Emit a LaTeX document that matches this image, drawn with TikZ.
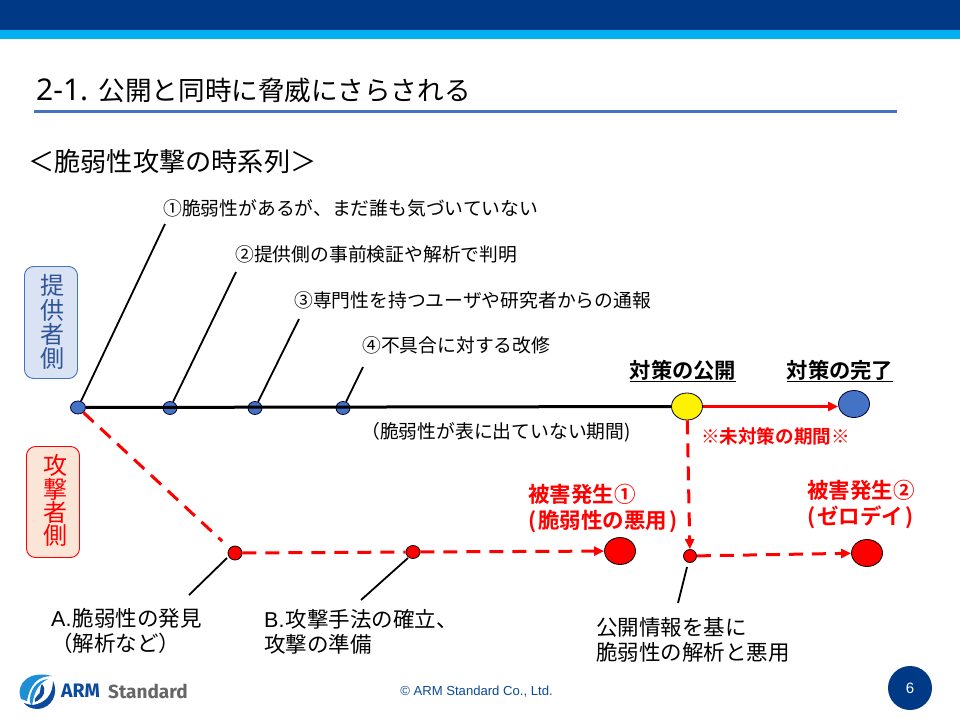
\documentclass[tikz,border=0pt]{standalone}
\usepackage{fontspec}
\usetikzlibrary{arrows.meta,shapes.geometric}
\setmainfont{Noto Sans CJK JP}[BoldFont={Noto Sans CJK JP Bold}]
\newfontfamily\latinf{Liberation Sans}
\newfontfamily\latinn{Noto Sans}
\newfontfamily\logof{Fira Sans}
\definecolor{hdrblue}{HTML}{003A87}
\definecolor{hdrcyan}{HTML}{00B0F0}
\definecolor{rulebl}{HTML}{4472C4}
\definecolor{dotblue}{HTML}{4472C4}
\definecolor{provfill}{HTML}{DAE3F3}
\definecolor{atkfill}{HTML}{FBE5D6}
\definecolor{provtext}{HTML}{2F5597}
\definecolor{logolight}{HTML}{1E8FD5}
\definecolor{logodark}{HTML}{0B4A9C}
\newcommand{\fs}[1]{\fontsize{#1}{#1}\selectfont}
\tikzset{
  x=1pt,y=-1pt,
  lbl/.style={anchor=west,inner sep=0pt,align=left,font=\fs{18.8}},
  twol/.style={anchor=west,inner sep=0pt,align=left,font=\fontsize{21.5}{25}\selectfont},
  redb/.style={anchor=west,inner sep=0pt,align=left,text=red,font=\fontsize{21.5}{26}\selectfont\bfseries},
  hdb/.style={inner sep=0pt,font=\fs{21.3}\bfseries},
  dotb/.style={ellipse,draw=black!80!blue,line width=.8pt,fill=dotblue,inner sep=0pt},
  small/.style={minimum width=14pt,minimum height=13pt},
  big/.style={minimum width=31pt,minimum height=27pt},
  dotr/.style={ellipse,draw=black,line width=.8pt,fill=red,inner sep=0pt},
  lead/.style={draw=black,line width=1.8pt},
  reddash/.style={draw=red,line width=3pt,dash pattern=on 14pt off 9pt},
  tip/.style={-{Triangle[length=10pt,width=9pt,fill=red]}},
  sidebox/.style={rounded corners=9pt,line width=.9pt,minimum width=53pt,inner sep=0pt},
  sidetext/.style={inner sep=0pt,align=center,font=\fs{24}},
}
\begin{document}
\begin{tikzpicture}
\useasboundingbox (0,0) rectangle (960,720);
\fill[white] (0,0) rectangle (960,720);
\fill[hdrblue] (0,0) rectangle (960,30);
\fill[hdrcyan] (0,30) rectangle (960,39);
\node[anchor=west,inner sep=0pt,font=\fs{26.6}] (title) at (36,90) {{\latinn\fs{30}2-1.}\hspace{10.5pt}公開と同時に脅威にさらされる};
\fill[rulebl] (34,110) rectangle (897,113);
\node[anchor=west,inner sep=0pt,font=\fs{26.2}] (sub) at (28,161) {＜脆弱性攻撃の時系列＞};

\node[sidebox,draw=dotblue,fill=provfill,minimum height=112pt] (prov) at (51,322.5) {};
\node[sidetext,text=provtext] (provl) at (52.5,322) {提\\[0.2pt]供\\[0.2pt]者\\[0.2pt]側};
\node[sidebox,draw=red,fill=atkfill,minimum height=111pt] (atk) at (53,502) {};
\node[sidetext,text=red] (atkl) at (55,500.5) {攻\\[-0.8pt]撃\\[-0.8pt]者\\[-0.8pt]側};

\node[lbl] (t1) at (163,208) {①脆弱性があるが、まだ誰も気づいていない};
\node[lbl] (t2) at (235,254) {②提供側の事前検証や解析で判明};
\node[lbl] (t3) at (294,300) {③専門性を持つユーザや研究者からの通報};
\node[lbl] (t4) at (362,345) {④不具合に対する改修};
\node[lbl] (t5) at (361,432) {（脆弱性が表に出ていない期間)};

\node[dotb,small,minimum width=15pt] (n1) at (78,407.5) {};
\node[dotb,small] (n2) at (170,408) {};
\node[dotb,small] (n3) at (255,408) {};
\node[dotb,small] (n4) at (343,408) {};
\node[ellipse,draw=black!80!blue,line width=.8pt,fill=yellow,inner sep=0pt,big] (y) at (687,406.5) {};
\node[dotb,big] (b) at (854,404) {};

\node[dotr,minimum width=14pt,minimum height=14pt] (ra) at (235,553) {};
\node[dotr,minimum width=14pt,minimum height=13pt] (rb) at (413,552) {};
\node[dotr,minimum width=31pt,minimum height=27pt] (r1) at (620,551) {};
\node[dotr,minimum width=13pt,minimum height=13pt] (rc) at (690,556) {};
\node[dotr,minimum width=31pt,minimum height=27pt] (r2) at (867,553) {};

\coordinate (e1) at (165,224);
\coordinate (e2) at (236,272);
\coordinate (e3) at (299,319);
\coordinate (e4) at (363,367);
\coordinate (ea) at (189,595);
\coordinate (eas) at (227,558);
\coordinate (eb) at (361,600);
\coordinate (ebs) at (408,558);
\coordinate (ec) at (678,603);
\coordinate (ecs) at (687,567);

\draw[lead] (n1) -- (e1);
\draw[lead] (n2) -- (e2);
\draw[lead] (n3) -- (e3);
\draw[lead] (n4) -- (e4);
\draw[draw=black,line width=3pt] (n1) -- (y);
\draw[draw=red,line width=3pt,tip] (y.east) -- ([yshift=-2.5pt]b.west);
\draw[reddash,shorten >=10pt] (n1) -- (ra);
\draw[reddash] (ra) -- (rb);
\draw[reddash,tip] (rb) -- (r1);
\draw[reddash,tip] (y) -- (rc);
\draw[reddash,tip] (rc) -- (r2);
\draw[lead] (eas) -- (ea);
\draw[lead] (ebs) -- (eb);
\draw[lead] (ecs) -- (ec);

\node[hdb,anchor=center] (h1) at (683,371) {\underline{対策の公開}};
\node[hdb,anchor=center] (h2) at (840,371) {\underline{対策の完了}};
\node[inner sep=0pt,text=red,font=\fs{18.6}\bfseries] (h3) at (775.5,436) {※未対策の期間※};
\node[redb] (d1) at (528,509) {被害発生①\\(\hspace{2pt}脆弱性の悪用\hspace{2pt})};
\node[redb] (d2) at (807,505) {被害発生②\\(\hspace{2pt}ゼロデイ\hspace{2pt})};

\node[twol] (ta) at (51,630.5) {{\latinf A.}\hspace{1pt}脆弱性の発見\\（解析など）};
\node[twol] (tb) at (264,632) {{\latinf B.}\hspace{1pt}攻撃手法の確立、\\攻撃の準備};
\node[twol] (tc) at (596,640) {公開情報を基に\\脆弱性の解析と悪用};

% logo
\fill[logolight] (21,699) .. controls (15,683) and (30,670) .. (52,676) .. controls (38,676) and (30,684) .. (27,701) -- cycle;
\fill[logolight] (30,702) .. controls (29,692) and (36,680) .. (48,679) .. controls (38,684) and (34,692) .. (32,706) -- cycle;
\fill[logodark] (38,709) .. controls (52,708) and (59,693) .. (53,681) .. controls (53,694) and (46,703) .. (33,705) .. controls (30,705) and (27,704) .. (24,703) .. controls (27,707) and (32,709) .. (38,709) -- cycle;
\fill[logodark] (35,702) .. controls (44,698) and (47,690) .. (42,684) .. controls (39,688) and (42,693) .. (37,696) .. controls (35,698) and (34,700) .. (35,702) -- cycle;
\node[anchor=west,inner sep=0pt,text=logodark,font=\logof\fs{19.5}\bfseries] (lg1) at (61,691) {ARM};
\node[anchor=west,inner sep=0pt,text=black!60,font=\logof\fs{19}\bfseries] (lg2) at (108,691) {Standard};

\node[inner sep=0pt,font=\latinf\fs{13.1},text=logodark] (foot) at (476.5,692) {© ARM Standard Co., Ltd.};
\node[circle,fill=hdrblue,minimum size=44pt,inner sep=0pt,text=white,font=\latinf\fs{15}] (pg) at (910,688) {6};
\end{tikzpicture}
\end{document}
